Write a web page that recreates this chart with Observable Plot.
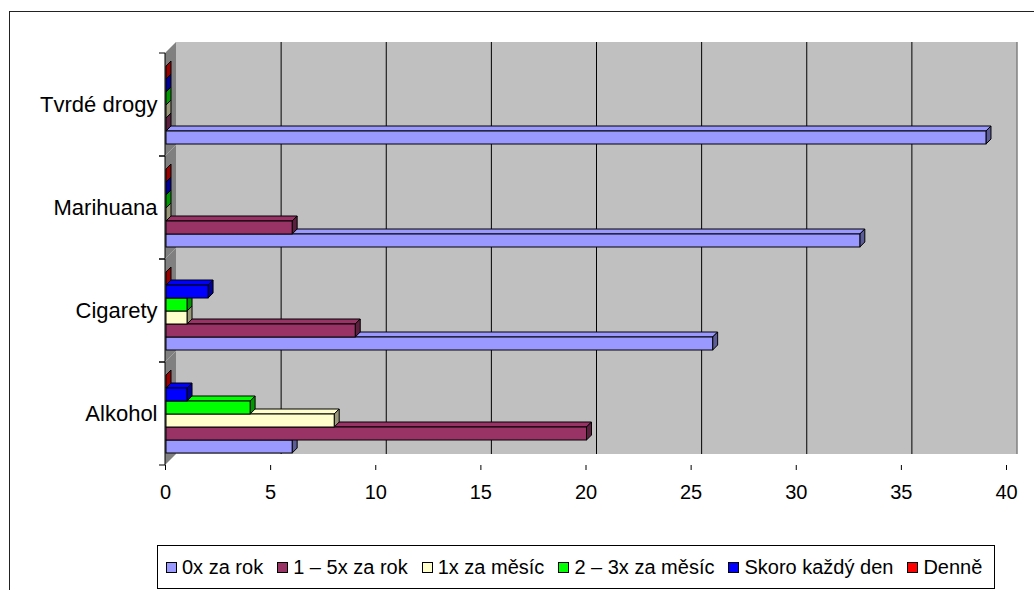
<!DOCTYPE html>
<html><head><meta charset="utf-8">
<script src="https://cdn.jsdelivr.net/npm/d3@7"></script>
<script src="https://cdn.jsdelivr.net/npm/@observablehq/plot@0.6"></script>
<style>
html,body{margin:0;padding:0;width:1034px;height:590px;overflow:hidden;background:#fff;font-family:"Liberation Sans",Arial,sans-serif;}
#frame{position:absolute;left:9px;top:11px;width:1040px;height:600px;border-top:1.5px solid #222;border-left:1.5px solid #222;}
#chart{position:absolute;left:0;top:0;}
#legend{position:absolute;left:157px;top:545px;width:838px;height:44px;box-sizing:border-box;border:1px solid #000;display:flex;align-items:center;justify-content:flex-start;padding-left:8px;gap:14px;font-size:20px;color:#000;background:#fff;}
.item{display:flex;align-items:center;gap:5px;white-space:nowrap}
.sw{width:9px;height:9px;border:1px solid #000;}
</style></head><body>
<div id="frame"></div><div id="chart"></div><div id="legend"></div>
<script>
const categories = ["Alkohol", "Cigarety", "Marihuana", "Tvrdé drogy"];
const series = ["0x za rok", "1 – 5x za rok", "1x za měsíc", "2 – 3x za měsíc", "Skoro každý den", "Denně"];
const seriesColors = ["#9999FF", "#993366", "#FFFFCC", "#00FF00", "#0000FF", "#FF0000"];
const v0xZaRok = [6, 26, 33, 39];
const v1az5xZaRok = [20, 9, 6, 0];
const v1xZaMesic = [8, 1, 0, 0];
const v2az3xZaMesic = [4, 1, 0, 0];
const vSkoroKazdyDen = [1, 2, 0, 0];
const vDenne = [0, 0, 0, 0];
const xTicks = [0, 5, 10, 15, 20, 25, 30, 35, 40];

const seriesValues = [v0xZaRok, v1az5xZaRok, v1xZaMesic, v2az3xZaMesic, vSkoroKazdyDen, vDenne];
const rows = [];
categories.forEach((c, ci) => series.forEach((s, si) => rows.push({category: c, series: s, value: seriesValues[si][ci]})));

const D = 11;   // wall depth (px)
const BD = 5;   // bar depth (px)
const BSX = 1;  // bar shift into depth, x (px)
const BSY = 0;  // bar shift into depth, y (px)

function ln(g, x1, y1, x2, y2, stroke, w = 1) {
  g.append("line").attr("x1", x1).attr("y1", y1).attr("x2", x2).attr("y2", y2)
    .attr("stroke", stroke).attr("stroke-width", w);
}
function poly(g, pts, fill, stroke) {
  g.append("polygon").attr("points", pts.map(p => p.join(",")).join(" "))
    .attr("fill", fill).attr("stroke", stroke || "none").attr("stroke-width", 1).attr("stroke-linejoin", "miter");
}
function box(dims) {
  const {width, height, marginTop, marginRight, marginBottom, marginLeft} = dims;
  return {xL: marginLeft, xR: width - marginRight, yT: marginTop, yB: height - marginBottom};
}

const chromeAll = Plot.frame({
  render: (index, scales, values, dims) => {
    const {xL, xR, yT, yB} = box(dims);
    const g = d3.create("svg:g");
    g.append("rect").attr("x", xL + D).attr("y", yT - D).attr("width", xR - xL).attr("height", yB - yT).attr("fill", "#C0C0C0");
    poly(g, [[xL, yT], [xL + D, yT - D], [xL + D, yB - D], [xL, yB]], "#808080");
    for (const t of xTicks.slice(1, -1)) ln(g, scales.x(t) + D, yT - D, scales.x(t) + D, yB - D, "#000");
    ln(g, xR + D, yT - D, xR + D, yB - D, "#808080", 1.5);
    ln(g, xL, yT, xL, yB, "#000");
    ln(g, xL - 6, yT, xL, yT, "#000");
    ln(g, xL - 6, yB, xL, yB, "#000");
    return g.node();
  }
});

const chromeTop = Plot.dot([{c: "Tvrdé drogy"}], {
  fy: "c",
  render: (index, scales, values, dims) => {
    const {xL, xR, yT} = box(dims);
    const g = d3.create("svg:g");
    ln(g, xL + D, yT - D, xR + D + 0.75, yT - D, "#808080", 1.5);
    ln(g, xL, yT, xL + D, yT - D, "#A0A0A0", 1);
    return g.node();
  }
});

const chromeBottom = Plot.dot([{c: "Alkohol"}], {
  fy: "c",
  render: (index, scales, values, dims) => {
    const {xL, xR, yB} = box(dims);
    const g = d3.create("svg:g");
    poly(g, [[xL, yB], [xL + D, yB - D], [xR + D, yB - D], [xR, yB]], "#C0C0C0");
    poly(g, [[xL, yB], [xL + D, yB - D], [xL + D, yB - D + 3], [xL + 3, yB]], "#808080");
    ln(g, xL + D, yB - D, xR + D, yB - D, "#808080", 2);
    for (const t of xTicks.slice(1, -1)) ln(g, scales.x(t), yB, scales.x(t) + D, yB - D, "#000");
    ln(g, xR, yB, xR + D, yB - D, "#808080", 1.5);
    ln(g, xL - 6, yB, xR, yB, "#000");
    return g.node();
  }
});

const bars3d = Plot.barX(rows, {
  x: "value", y: "series", fy: "category", fill: "series",
  render: (index, scales, values) => {
    const g = d3.create("svg:g");
    const bw = scales.y.bandwidth();
    for (const i of index) {
      const x0 = values.x1[i] + BSX, x1 = values.x2[i] + BSX;
      const y0 = values.y[i] - BSY, y1 = y0 + bw;
      const c = values.fill[i];
      const dark = d3.rgb(c); dark.r *= 0.6; dark.g *= 0.6; dark.b *= 0.6;
      poly(g, [[x0, y0], [x0 + BD, y0 - BD], [x1 + BD, y0 - BD], [x1, y0]], c, "#000");
      poly(g, [[x1, y0], [x1 + BD, y0 - BD], [x1 + BD, y1 - BD], [x1, y1]], dark.formatHex(), "#000");
      g.append("rect").attr("x", x0).attr("y", y0).attr("width", Math.max(0, x1 - x0)).attr("height", bw)
        .attr("fill", c).attr("stroke", "#000").attr("stroke-width", 1);
    }
    return g.node();
  }
});

const chart = Plot.plot({
  width: 1034, height: 530,
  marginLeft: 165, marginRight: 28, marginTop: 52, marginBottom: 64,
  style: {fontFamily: "'Liberation Sans', Arial, sans-serif", fontSize: "20px", color: "#000", background: "none", overflow: "visible"},
  x: {domain: [0, 40], axis: null},
  y: {domain: [...series].reverse(), padding: 0, insetTop: 11, insetBottom: 11, axis: null},
  fy: {domain: [...categories].reverse(), padding: 0, axis: null, label: null},
  color: {domain: series, range: seriesColors},
  marks: [
    chromeAll,
    chromeTop,
    chromeBottom,
    bars3d,
    Plot.axisX({ticks: xTicks, tickSize: 5, tickPadding: 14, fontSize: 20, label: null, tickFormat: d => String(d), stroke: "#000"}),
    Plot.axisFy({anchor: "left", tickSize: 0, tickPadding: 8, fontSize: 22, label: null})
  ]
});
document.getElementById("chart").appendChild(chart);

const legend = document.getElementById("legend");
series.forEach((s, i) => {
  const item = document.createElement("div"); item.className = "item";
  const sw = document.createElement("div"); sw.className = "sw"; sw.style.background = seriesColors[i];
  const tx = document.createElement("span"); tx.textContent = s;
  item.appendChild(sw); item.appendChild(tx); legend.appendChild(item);
});
</script>
</body></html>
